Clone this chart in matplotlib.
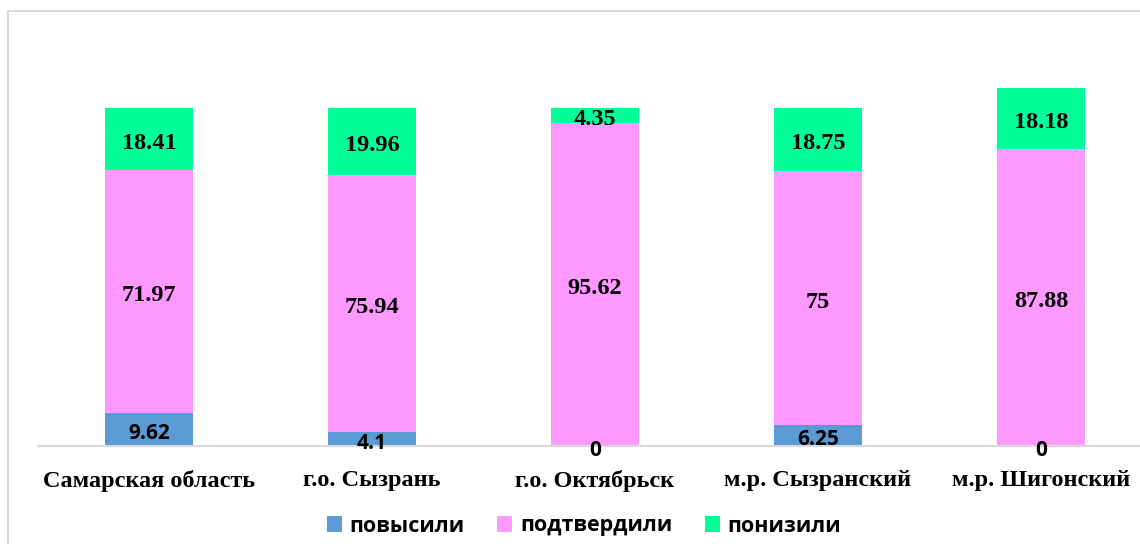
import matplotlib
matplotlib.use("Agg")
import matplotlib.pyplot as plt
from matplotlib.patches import Rectangle
from matplotlib.transforms import offset_copy
import numpy as np

# Data
categories = ["Самарская область", "г.о. Сызрань", "г.о. Октябрьск",
              "м.р. Сызранский", "м.р. Шигонский"]
raised = [9.62, 4.1, 0, 6.25, 0]
confirmed = [71.97, 75.94, 95.62, 75, 87.88]
lowered = [18.41, 19.96, 4.35, 18.75, 18.18]
series_names = ["повысили", "подтвердили", "понизили"]

COLORS = ["#5B9BD5", "#FF99FF", "#00FF99"]
SERIF = "Liberation Serif"
SANS = "Open Sans"

W, H = 1140, 544
fig = plt.figure(figsize=(W / 100, H / 100), dpi=100)

# light gray chart border, cut off at right and bottom like the source
fig.patches.append(Rectangle((8 / W, -0.1), 1.2, 1.1 - 11 / H,
                             transform=fig.transFigure, fill=False,
                             edgecolor="#D9D9D9", linewidth=1.5))

ax = fig.add_axes([37.5 / W, 98 / H, 1115 / W, 405.6 / H])
x = np.arange(len(categories))
width = 0.395

# nudge labels down a little so the digits sit centred like in Excel
low = offset_copy(ax.transData, fig=fig, x=0, y=-4, units="dots")

bottoms = np.zeros(len(categories))
bars = []
for vals, color, name in zip([raised, confirmed, lowered], COLORS, series_names):
    b = ax.bar(x, vals, width, bottom=bottoms, color=color, label=name, zorder=2)
    bars.append(b)
    bottoms = bottoms + np.array(vals)

# value labels
for i in range(len(categories)):
    v = raised[i]
    ax.text(x[i], v / 2, f"{v:g}", ha="center", va="center", transform=low,
            fontsize=15, fontweight="bold", family=SANS, zorder=3)
    base = raised[i]
    v = confirmed[i]
    ax.text(x[i], base + v / 2, f"{v:g}", ha="center", va="center", transform=low,
            fontsize=17.5, fontweight="bold", family=SERIF, zorder=3)
    base += v
    v = lowered[i]
    ax.text(x[i], base + v / 2, f"{v:g}", ha="center", va="center", transform=low,
            fontsize=17.5, fontweight="bold", family=SERIF, zorder=3)

ax.set_xlim(-0.5, len(categories) - 0.5)
ax.set_ylim(0, 120)
ax.set_xticks(x)
ax.set_xticklabels(categories, fontsize=17.5, fontweight="bold", family=SERIF)
ax.tick_params(axis="x", length=0, pad=17)
ax.set_yticks([])
for s in ["top", "right", "left"]:
    ax.spines[s].set_visible(False)
ax.spines["bottom"].set_color("#D9D9D9")
ax.spines["bottom"].set_linewidth(1.5)

fig.legend(handles=bars, labels=series_names, loc="center",
           bbox_to_anchor=(584 / W, 1 - 526 / H), ncol=3, frameon=False,
           handlelength=0.7, handleheight=0.7, handletextpad=0.37,
           columnspacing=1.5, prop={"family": SANS, "weight": "bold", "size": 15.5})

fig.savefig("out.png", dpi=100)
